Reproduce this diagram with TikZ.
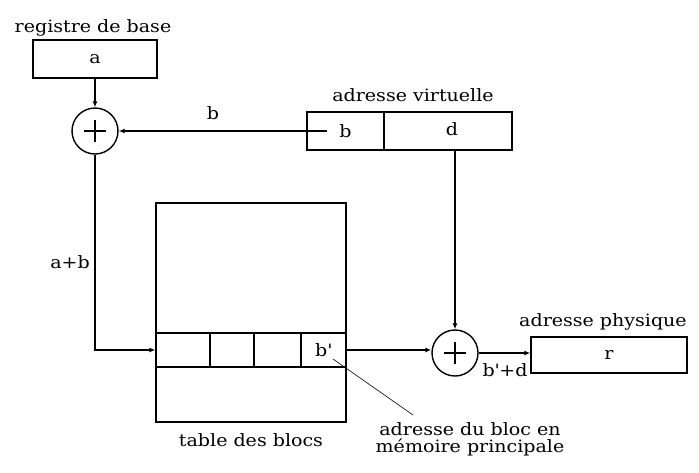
\documentclass[tikz,border=0pt]{standalone}
\usepackage{fontspec}
\newfontfamily\diagfont[FakeStretch=1.12]{DejaVu Serif}
\usetikzlibrary{arrows.meta}
\begin{document}
\begin{tikzpicture}[x=1pt,y=-1pt,
  font=\diagfont\fontsize{17}{18}\selectfont,
  line width=1.4pt,
  box/.style={draw,rectangle,inner sep=0pt,anchor=center},
  plus/.style={draw,circle,inner sep=0pt,minimum size=46pt},
  lbl/.style={inner sep=0pt,anchor=center},
  arr/.style={-{Latex[length=6pt,width=5pt]}}]
\useasboundingbox (0,0) rectangle (699,472);
% register
\node[box,minimum width=124pt,minimum height=38pt] (reg) at (95,59) {a};
\node[lbl] (regl) at (93,28) {registre de base};
\node[plus] (p1) at (95,131) {};
\draw (p1.center) +(-11,0) -- +(11,0) (p1.center) +(0,-11) -- +(0,11);
% virtual address
\node[box,minimum width=77pt,minimum height=38pt] (vb) at (345.5,131) {b};
\node[box,minimum width=128pt,minimum height=38pt] (vd) at (448,131) {};
\node[lbl] (vdl) at (452,129) {d};
\node[lbl] (val) at (413,95) {adresse virtuelle};
\coordinate (vbs) at (327,131);
% table
\node[box,minimum width=190pt,minimum height=219pt] (tab) at (251,312.5) {};
\node[box,minimum width=54pt,minimum height=34pt] (c1) at (183,350) {};
\node[box,minimum width=44pt,minimum height=34pt] (c2) at (232,350) {};
\node[box,minimum width=47pt,minimum height=34pt] (c3) at (277.5,350) {};
\node[box,minimum width=45pt,minimum height=34pt] (c4) at (323.5,350) {b\textquotesingle};
\node[lbl] (tabl) at (251,440) {table des blocs};
% second adder and physical address
\node[plus] (p2) at (455,353) {};
\draw (p2.center) +(-11,0) -- +(11,0) (p2.center) +(0,-11) -- +(0,11);
\node[box,minimum width=156pt,minimum height=36pt] (rb) at (609,355) {r};
\node[lbl] (rbl) at (603,322) {adresse physique};
\node[lbl] (bd) at (505,370) {b\textquotesingle+d};
% annotation
\node[lbl,align=center] (ann) at (470,439) {adresse du bloc en\\[-1pt]mémoire principale};
\coordinate (lead1) at (333,359);
\coordinate (lead2) at (413,415);
% connectors
\draw[arr] (reg.south) -- (p1.north);
\draw[arr] (vbs) -- (p1.east);
\node[lbl] (bl) at (213,113) {b};
\draw[arr] (p1.south) |- (c1.west);
\node[lbl] (abl) at (70,262) {a+b};
\draw[arr] (c4.east) -- (c4.east -| p2.west);
\draw[arr] (p2 |- vd.south) -- (p2.north);
\draw[arr] (p2.east) -- (p2.east -| rb.west);
\draw[line width=0.6pt] (lead1) -- (lead2);
\end{tikzpicture}
\end{document}
